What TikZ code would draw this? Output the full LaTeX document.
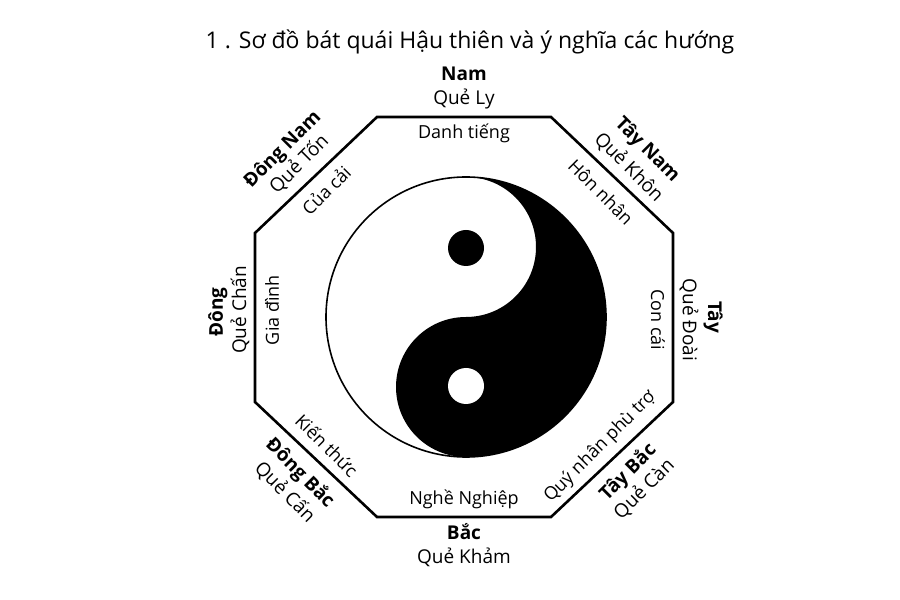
\documentclass[tikz,border=0pt]{standalone}
\usepackage{fontspec}
\setmainfont{Open Sans}
\usepackage{tikz}
\usetikzlibrary{calc}
\tikzstyle{edge}     = [line width=2.6pt,line join=miter]

\begin{document}
\begin{tikzpicture}[x=1pt,y=1pt,
    dir/.style={font=\fontsize{19}{22}\selectfont\bfseries,inner sep=0pt},
    que/.style={font=\fontsize{19}{22}\selectfont,inner sep=0pt},
    mean/.style={font=\fontsize{18}{21}\selectfont,inner sep=0pt},
    ]
    \useasboundingbox (0,0) rectangle (900,600);
    \coordinate (c) at (466,283);
    % title
    \node[font=\fontsize{23}{27}\selectfont,anchor=base] (title) at (470,551)
      {1 . Sơ đồ bát quái Hậu thiên và ý nghĩa các hướng};
    % octagon
    \draw[edge] (377,483) -- (551,483) -- (673,367) -- (673,198)
      -- (551,83) -- (377,83) -- (255,198) -- (255,367) -- cycle;
    % yin yang
    \fill[white] (c) circle (140);
    \fill[black] ($(c)+(0,140)$) arc (90:-90:140)
      arc (-90:-270:70) arc (-90:90:70) -- cycle;
    \fill[black] ($(c)+(0,69)$) circle (18);
    \fill[white] ($(c)+(0,-69)$) circle (18);
    \draw[line width=1.6pt] (c) circle (140);
    % Nam
    \node[dir] (nam) at (464,526) {Nam};
    \node[que] (quely) at (464,501) {Quẻ Ly};
    \node[mean] (danh) at (464,467) {Danh tiếng};
    % Bac
    \node[mean] (nghe) at (464,101) {Nghề Nghiệp};
    \node[dir] (bac) at (464,68) {Bắc};
    \node[que] (quekham) at (464,43) {Quẻ Khảm};
    % Dong
    \node[dir,rotate=90] (dong) at (218,288) {Đông};
    \node[que,rotate=90] (quechan) at (240,290) {Quẻ Chấn};
    \node[mean,rotate=90] (giadinh) at (272,290) {Gia đình};
    % Tay
    \node[dir,rotate=-90] (tay) at (713,283) {Tây};
    \node[que,rotate=-90] (quedoai) at (689,280) {Quẻ Đoài};
    \node[mean,rotate=-90] (concai) at (658,280) {Con cái};
    % Dong Nam
    \node[dir,rotate=45] (dongnam) at (283,450) {Đông Nam};
    \node[que,rotate=45] (queton) at (299,436) {Quẻ Tốn};
    \node[mean,rotate=45] (cuacai) at (326,410) {Của cải};
    % Tay Nam
    \node[dir,rotate=-45] (taynam) at (647,450) {Tây Nam};
    \node[que,rotate=-45] (quekhon) at (629,433) {Quẻ Khôn};
    \node[mean,rotate=-45] (honnhan) at (601,408) {Hôn nhân};
    % Dong Bac
    \node[mean,rotate=-45] (kienthuc) at (327,155) {Kiến thức};
    \node[dir,rotate=-45] (dongbac) at (300,127) {Đông Bắc};
    \node[que,rotate=-45] (quecan) at (285,108) {Quẻ Cấn};
    % Tay Bac
    \node[mean,rotate=45] (quynhan) at (600,153) {Quý nhân phù trợ};
    \node[dir,rotate=45] (taybac) at (628,128) {Tây Bắc};
    \node[que,rotate=45] (quecan2) at (644,111) {Quẻ Càn};
  \end{tikzpicture}
\end{document}
